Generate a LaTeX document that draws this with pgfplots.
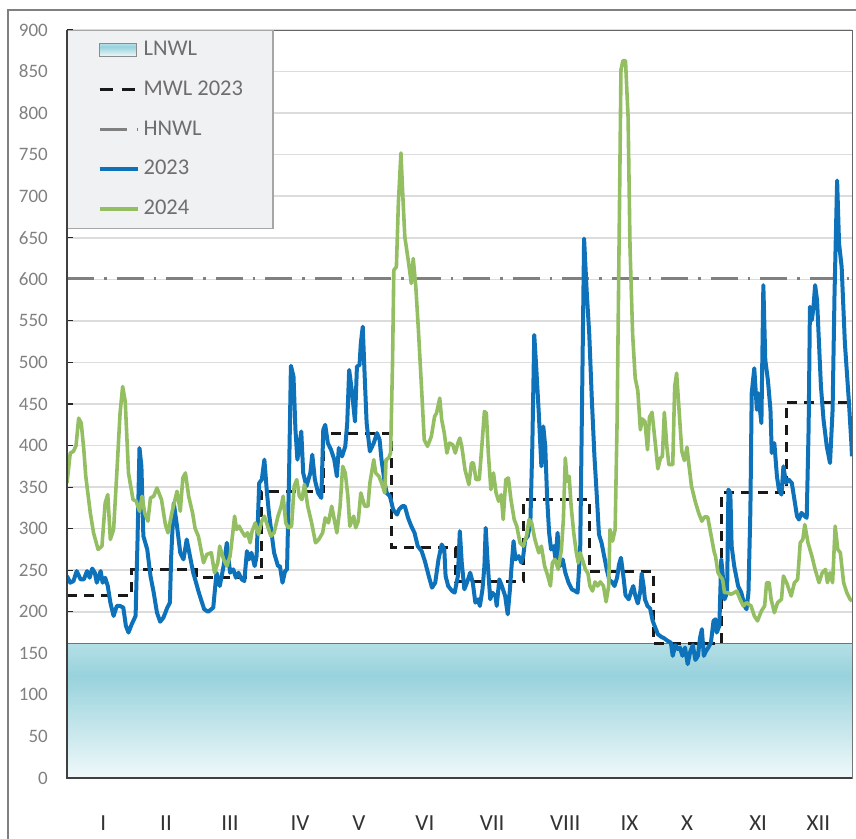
\documentclass[border=0pt]{standalone}
\usepackage{fontspec}
\setmainfont{Carlito}
\usepackage{pgfplots}
\pgfplotsset{compat=1.18}
\definecolor{c23}{RGB}{14,114,186}
\definecolor{c24}{RGB}{147,191,98}
\definecolor{hnwl}{RGB}{128,128,128}
\definecolor{lnwltop}{RGB}{180,223,230}
\definecolor{lnwlmid}{RGB}{152,210,220}
\definecolor{lnwlbot}{RGB}{240,249,250}
\definecolor{gridc}{RGB}{220,220,220}
\definecolor{legfill}{RGB}{240,241,243}
\definecolor{legdraw}{RGB}{166,166,166}
\definecolor{legtext}{RGB}{110,110,110}
\definecolor{ticktext}{RGB}{128,128,128}
\pgfdeclareverticalshading{lnwl}{100bp}{color(0bp)=(lnwlbot); color(25bp)=(lnwlbot); color(63bp)=(lnwlmid); color(75bp)=(lnwltop); color(100bp)=(lnwltop)}
\pgfplotsset{
  lnwlleg/.style={legend image code/.code={\path[shading=lnwl, draw=black!45, line width=1pt] (0pt,-6.5pt) rectangle (37pt,6.5pt);}},
  mwlleg/.style={legend image code/.code={\draw[##1, dash pattern=on 13pt off 9pt] (0pt,0pt) -- (35pt,0pt);}},
}
\begin{document}
\begin{tikzpicture}
\begin{axis}[
 name=ax, at={(67pt,60pt)}, anchor=south west,
 width=785pt, height=748pt, scale only axis,
 xmin=0, xmax=12.13, ymin=0, ymax=900,
 ytick={0,50,...,900},
 xtick={1,2,3,4,5,6,7,8,9,10,11,12}, xticklabels={},
 extra x ticks={0.56,1.53,2.52,3.60,4.51,5.53,6.57,7.70,8.69,9.58,10.68,11.61},
 extra x tick labels={I,II,III,IV,V,VI,VII,VIII,IX,X,XI,XII},
 extra x tick style={major tick length=0pt, grid=none},
 tick pos=left, tick align=inside, major tick length=6pt,
 tick style={line width=1.2pt, color=black!85},
 ymajorgrids, grid style={gridc, line width=1.5pt},
 axis line style={line width=1pt, color=black!60},
 /pgf/number format/assume math mode=true,
 yticklabel style={font=\fontsize{19}{19}\selectfont, color=ticktext, inner sep=0pt, anchor=east, xshift=-19pt},
 xticklabel style={font=\fontsize{23}{23}\selectfont, color=black!80, inner sep=0pt, anchor=north, yshift=-38pt},
 legend style={at={(0,1)}, anchor=north west, fill=legfill, draw=legdraw, line width=1.2pt,
   inner xsep=30pt, inner ysep=9pt, row sep=18.7pt, column sep=4pt,
   font=\fontsize{22.5}{22.5}\selectfont, text=legtext,
   nodes={inner sep=0pt, text height=16pt, text depth=5pt}},
 legend cell align=left,
 legend image code/.code={\draw[#1] (0pt,0pt) -- (38pt,0pt);},
]
\addplot[draw=none, shading=lnwl, lnwlleg]
  coordinates {(0,162)(12.13,162)} \closedcycle;
\addlegendentry{LNWL}
\addplot[forget plot, black!55, line width=1.2pt] coordinates {(0,162)(12.13,162)};
\addplot[const plot, color=black!90, line width=3pt, dash pattern=on 10pt off 7pt, mwlleg]
  coordinates {(0,220)(1,251)(2,241)(3,345)(3.97,414)(5.02,277)(6,236)(7.05,335)(8.07,249)(9.07,162)(10.12,344)(11.11,452)(12.13,452)};
\addlegendentry{MWL 2023}
\addplot[hnwl, line width=3.5pt, dash pattern=on 27pt off 10pt on 2.5pt off 10pt]
  coordinates {(0,601)(12.13,601)};
\addlegendentry{HNWL}
\addplot[c23, line width=4pt, line join=round] coordinates {
(0,243)(0.05,235)(0.10,237)(0.15,249)(0.21,239)(0.26,239)(0.31,249)(0.35,241)(0.39,252)(0.43,247)(0.46,235)(0.52,249)(0.55,235)(0.59,241)(0.63,231)(0.67,211)(0.72,195)(0.77,207)(0.82,207)(0.87,205)(0.91,183)(0.95,175)(1.00,185)(1.06,195)(1.09,287)(1.12,397)(1.15,375)(1.18,291)(1.24,275)(1.29,243)(1.34,223)(1.39,199)(1.44,188)(1.49,193)(1.55,205)(1.59,211)(1.61,267)(1.65,331)(1.70,303)(1.75,271)(1.80,263)(1.85,287)(1.90,267)(1.95,247)
(1.98,239)(2.03,225)(2.07,215)(2.12,203)(2.18,200)(2.26,205)(2.31,247)(2.36,231)(2.42,255)(2.47,283)(2.52,247)(2.57,251)(2.61,241)(2.65,247)(2.70,239)(2.74,237)(2.78,273)(2.81,263)(2.85,271)(2.90,255)(2.93,267)(2.97,355)(3.01,359)(3.05,383)(3.09,343)(3.12,319)(3.16,295)(3.20,271)(3.26,255)(3.29,255)(3.33,235)(3.37,249)(3.40,251)(3.43,359)(3.46,496)(3.50,483)(3.53,419)(3.56,383)(3.62,417)(3.65,367)(3.70,351)(3.76,367)(3.79,389)(3.83,359)(3.88,343)(3.93,337)(3.96,419)
(3.99,425)(4.03,403)(4.08,395)(4.13,383)(4.17,363)(4.20,397)(4.25,387)(4.30,399)(4.33,427)(4.36,491)(4.40,467)(4.45,429)(4.48,495)(4.52,497)(4.54,523)(4.57,543)(4.60,483)(4.63,427)(4.68,393)(4.74,403)(4.79,415)(4.83,407)(4.86,383)(4.91,355)(4.94,343)(4.99,339)(5.04,323)(5.10,317)(5.13,323)(5.18,327)(5.22,327)(5.27,313)(5.32,303)(5.37,295)(5.42,279)(5.48,273)(5.53,261)(5.59,243)(5.64,229)(5.69,235)(5.74,263)(5.79,281)(5.83,275)(5.85,243)(5.89,231)(5.95,225)(5.99,223)
(6.04,243)(6.07,297)(6.10,259)(6.14,227)(6.18,235)(6.23,247)(6.27,235)(6.31,211)(6.35,215)(6.38,207)(6.42,227)(6.45,255)(6.47,301)(6.50,259)(6.54,215)(6.57,223)(6.62,219)(6.64,207)(6.68,239)(6.72,231)(6.77,219)(6.81,197)(6.84,223)(6.87,255)(6.90,285)(6.93,263)(6.98,267)(7.02,259)(7.05,267)(7.08,287)(7.12,291)(7.16,307)(7.19,399)(7.22,533)(7.25,495)(7.29,439)(7.33,375)(7.36,423)(7.39,399)(7.42,335)(7.45,295)(7.48,275)(7.52,279)(7.55,263)(7.58,295)(7.62,255)(7.66,263)(7.70,247)(7.75,235)(7.80,227)(7.85,225)(7.89,223)(7.93,275)(7.95,399)(7.99,649)
(8.03,586)(8.07,534)(8.11,455)(8.15,387)(8.19,335)(8.22,293)(8.26,283)(8.30,267)(8.34,251)(8.38,238)(8.42,236)(8.46,231)(8.50,241)(8.53,257)(8.56,265)(8.60,241)(8.63,220)(8.68,215)(8.72,225)(8.75,231)(8.78,220)(8.82,210)(8.86,225)(8.88,246)(8.91,231)(8.93,215)(8.97,207)(9.01,204)(9.05,189)(9.09,181)(9.13,173)(9.18,170)(9.23,168)(9.28,165)(9.33,163)(9.36,147)(9.40,160)(9.44,155)(9.47,157)(9.51,147)(9.55,157)(9.59,137)(9.63,152)(9.67,160)(9.71,142)(9.75,147)(9.78,168)(9.81,179)(9.84,147)(9.87,152)(9.91,157)(9.95,163)(9.99,189)
(10.02,191)(10.04,175)(10.08,183)(10.11,263)(10.13,247)(10.16,215)(10.20,223)(10.22,347)(10.25,343)(10.27,279)(10.31,255)(10.37,231)(10.42,223)(10.47,207)(10.50,203)(10.53,223)(10.56,323)(10.58,463)(10.62,493)(10.66,443)(10.68,463)(10.73,427)(10.76,593)(10.79,503)(10.83,479)(10.87,443)(10.89,391)(10.93,403)(10.97,363)(11.00,347)(11.04,341)(11.07,375)(11.11,355)(11.15,359)(11.20,355)(11.24,335)(11.28,315)(11.31,311)(11.35,319)(11.40,315)(11.43,313)(11.46,423)(11.48,567)(11.51,551)(11.535,567)(11.56,593)(11.59,575)(11.62,523)(11.65,471)(11.69,431)(11.74,399)(11.79,379)(11.83,443)(11.86,583)(11.90,719)(11.93,643)(11.97,615)(12.02,523)(12.08,455)(12.12,403)(12.13,387)
};
\addlegendentry{2023}
\addplot[c24, line width=3.6pt, line join=round] coordinates {
(0,355)(0.05,391)(0.10,393)(0.14,400)(0.18,433)(0.22,427)(0.26,395)(0.29,363)(0.36,319)(0.41,295)(0.48,275)(0.54,279)(0.59,331)(0.63,341)(0.67,287)(0.72,299)(0.77,367)(0.82,439)(0.86,471)(0.90,453)(0.95,367)(1.02,335)(1.07,333)(1.12,321)(1.16,339)(1.20,319)(1.25,309)(1.29,337)(1.34,339)(1.39,349)(1.46,335)(1.52,305)(1.56,295)(1.62,319)(1.70,345)(1.75,321)(1.79,361)(1.83,367)(1.88,339)(1.94,319)
(1.98,300)(2.03,291)(2.11,259)(2.16,269)(2.23,271)(2.28,247)(2.33,259)(2.36,279)(2.42,263)(2.47,255)(2.52,267)(2.55,287)(2.59,315)(2.62,299)(2.66,303)(2.70,297)(2.75,291)(2.79,295)(2.83,283)(2.86,297)(2.91,307)(2.96,293)(3.01,309)(3.05,315)(3.10,303)(3.15,291)(3.20,295)(3.26,315)(3.31,327)(3.34,339)(3.38,307)(3.42,301)(3.47,303)(3.51,351)(3.55,359)(3.59,339)(3.63,335)(3.67,353)(3.72,327)(3.78,307)(3.84,283)(3.89,287)(3.95,295)
(3.99,313)(4.04,307)(4.09,327)(4.13,311)(4.17,295)(4.22,327)(4.26,375)(4.30,367)(4.34,339)(4.37,303)(4.43,315)(4.46,301)(4.50,309)(4.54,343)(4.60,327)(4.65,327)(4.68,355)(4.74,383)(4.77,367)(4.82,363)(4.86,355)(4.91,343)(4.93,383)(4.97,385)(5.00,391)(5.03,499)(5.05,611)(5.09,615)(5.12,691)(5.16,752)(5.19,699)(5.22,651)(5.28,619)(5.32,595)(5.35,625)(5.39,591)(5.43,539)(5.48,467)(5.52,407)(5.57,399)(5.63,411)(5.68,435)(5.71,439)(5.76,457)(5.79,431)(5.83,415)(5.87,391)(5.91,403)(5.96,401)
(6.00,391)(6.04,403)(6.07,409)(6.10,399)(6.15,371)(6.21,353)(6.25,379)(6.28,379)(6.32,359)(6.37,359)(6.41,399)(6.45,441)(6.48,439)(6.51,391)(6.55,347)(6.59,367)(6.63,343)(6.67,333)(6.71,341)(6.74,311)(6.78,359)(6.82,361)(6.86,335)(6.91,311)(6.95,303)(7.00,283)(7.05,279)(7.10,291)(7.14,311)(7.18,307)(7.23,287)(7.29,271)(7.33,279)(7.38,255)(7.43,243)(7.47,231)(7.50,259)(7.54,263)(7.59,251)(7.64,275)(7.67,311)(7.70,385)(7.73,357)(7.76,363)(7.79,327)(7.83,295)(7.87,271)(7.90,259)(7.93,271)(7.98,259)
(8.01,251)(8.05,246)(8.08,231)(8.12,225)(8.16,236)(8.20,231)(8.24,236)(8.29,231)(8.33,212)(8.37,231)(8.39,299)(8.43,285)(8.47,299)(8.50,429)(8.53,638)(8.56,852)(8.59,863)(8.63,863)(8.67,795)(8.70,638)(8.74,534)(8.78,481)(8.82,466)(8.86,419)(8.89,432)(8.93,429)(8.97,395)(9.00,434)(9.04,440)(9.09,403)(9.13,372)(9.17,385)(9.20,387)(9.23,440)(9.27,398)(9.30,377)(9.36,377)(9.39,471)(9.42,487)(9.46,440)(9.50,393)(9.54,382)(9.58,398)(9.61,377)(9.65,351)(9.71,332)(9.76,319)(9.81,309)(9.85,314)(9.90,314)(9.95,293)(10.00,272)
(10.02,267)(10.06,247)(10.09,243)(10.13,239)(10.16,223)(10.21,223)(10.26,221)(10.31,223)(10.35,225)(10.40,215)(10.45,207)(10.50,211)(10.57,207)(10.62,195)(10.67,189)(10.73,201)(10.78,207)(10.81,235)(10.85,235)(10.88,215)(10.93,199)(10.98,211)(11.04,215)(11.07,243)(11.12,235)(11.19,219)(11.24,235)(11.29,239)(11.33,283)(11.37,287)(11.40,305)(11.45,283)(11.51,267)(11.56,251)(11.62,235)(11.67,247)(11.72,251)(11.75,235)(11.79,247)(11.83,235)(11.87,303)(11.91,275)(11.95,271)(12.00,235)(12.05,223)(12.10,215)(12.13,213)
};
\addlegendentry{2024}
\end{axis}
\draw[black!75, line width=2pt] (ax.north west) -- (ax.south west) -- (ax.south east);
\draw[black!50, line width=1.5pt] (8pt,-40pt) -- (8pt,828pt) -- (900pt,828pt);
\pgfresetboundingbox
\useasboundingbox (0,0) rectangle (856pt,838pt);
\end{tikzpicture}
\end{document}
